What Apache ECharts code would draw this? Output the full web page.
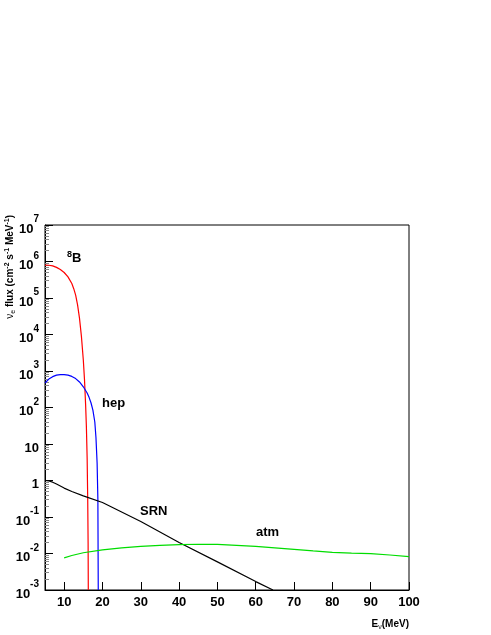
<!DOCTYPE html>
<html><head><meta charset="utf-8">
<script src="https://cdn.jsdelivr.net/npm/echarts@6/dist/echarts.min.js"></script>
<style>html,body{margin:0;padding:0;background:#fff}#c{width:491px;height:635px}</style>
</head><body><div id="c"></div>
<script>
const b8 = [[5,8e5],[6,7.9e5],[7,7.6e5],[8,6.9e5],[9,6e5],[10,5e5],[11,3.8e5],[12,2.5e5],[12.5,1.8e5],[13,1.2e5],[13.5,6.5e4],[14,2.8e4],[14.5,9e3],[15,2e3],[15.3,6e2],[15.6,1.2e2],[15.8,30],[16,4],[16.15,0.3],[16.25,0.02],[16.3,0.001]];
const hep = [[5,470],[6,600],[7,700],[8,770],[9,800],[10,800],[11,770],[12,710],[13,620],[14,500],[15,370],[16,250],[16.5,190],[17,135],[17.5,85],[18,40],[18.3,15],[18.6,3],[18.8,0.3],[18.9,0.001]];
const srn = [[5,1],[6,0.97],[7,0.9],[8,0.8],[10,0.62],[12,0.5],[15,0.38],[20,0.25],[30,0.075],[40,0.02],[50,0.0059],[60,0.0017],[64.5,0.001]];
const atm = [[10,0.0076],[12,0.0088],[15,0.0105],[20,0.0125],[25,0.0142],[30,0.0156],[35,0.0168],[40,0.0176],[45,0.0179],[50,0.0177],[55,0.0168],[60,0.0156],[65,0.0143],[70,0.013],[75,0.0118],[80,0.0108],[85,0.0103],[90,0.0099],[95,0.0091],[100,0.0082]];
const xTicks = [10,20,30,40,50,60,70,80,90,100];
const F = 'Liberation Sans, Arial, sans-serif';
function yLab(v){
  const e = Math.round(Math.log10(v));
  if (e===0) return '{b|1}';
  if (e===1) return '{b|10}';
  return '{b|10}{s|' + e + '}';
}
const chart = echarts.init(document.getElementById('c'));
chart.setOption({
  animation:false,
  grid:{left:45,right:82,top:225,bottom:45,show:true,borderColor:'#000',borderWidth:1},
  xAxis:{type:'value',min:5,max:100,
    axisLine:{onZero:false,lineStyle:{color:'#000'}},
    axisTick:{inside:true,length:8,customValues:xTicks,lineStyle:{color:'#000'}},
    axisLabel:{customValues:xTicks,color:'#000',fontFamily:F,fontWeight:'bold',fontSize:13,margin:6},
    splitLine:{show:false},
    name:'{b|E}{s|ν}{b|(MeV)}',nameLocation:'end',nameGap:0,
    nameTextStyle:{align:'right',verticalAlign:'top',padding:[28,0,0,0],rich:{b:{fontFamily:F,fontWeight:'bold',fontSize:10,color:'#000'},s:{fontFamily:F,fontSize:7,color:'#000',verticalAlign:'bottom',padding:[6,0,0,0]}}}
  },
  yAxis:{type:'log',min:0.001,max:1e7,logBase:10,interval:1,
    axisLine:{lineStyle:{color:'#000'}},
    axisTick:{inside:true,length:8,lineStyle:{color:'#000'}},
    minorTick:{show:true,splitNumber:9,length:4,lineStyle:{color:'#888'}},
    axisLabel:{formatter:yLab,color:'#000',margin:6,showMinLabel:true,showMaxLabel:true,
      rich:{b:{fontFamily:F,fontWeight:'bold',fontSize:13,color:'#000',padding:[8,0,0,0]},s:{fontFamily:F,fontWeight:'bold',fontSize:10,color:'#000',verticalAlign:'top',padding:[0,0,10,0]}}},
    splitLine:{show:false}
  },
  series:[
    {type:'line',data:b8,showSymbol:false,lineStyle:{color:'#ff0000',width:1.2}},
    {type:'line',data:hep,showSymbol:false,lineStyle:{color:'#0000ff',width:1.2}},
    {type:'line',data:srn,showSymbol:false,lineStyle:{color:'#000',width:1.2}},
    {type:'line',data:atm,showSymbol:false,lineStyle:{color:'#00dd00',width:1.2}}
  ],
  graphic:[
    {type:'text',left:67,top:250,style:{text:'{s|8}{b|B}',rich:{s:{fontFamily:F,fontSize:9,fontWeight:'bold',verticalAlign:'top',padding:[0,0,8,0]},b:{fontFamily:F,fontSize:13,fontWeight:'bold'}}}},
    {type:'text',left:102,top:397,style:{text:'hep',font:'bold 13px '+F}},
    {type:'text',left:140,top:505,style:{text:'SRN',font:'bold 13px '+F}},
    {type:'text',left:256,top:526,style:{text:'atm',font:'bold 13px '+F}},
    {type:'text',left:4,top:215,rotation:Math.PI/2,style:{text:'{s|ν}{t|e}{b| flux (cm}{u|-2}{b| s}{u|-1}{b| MeV}{u|-1}{b|)}',
      rich:{b:{fontFamily:F,fontSize:10,fontWeight:'bold'},s:{fontFamily:F,fontSize:10},t:{fontFamily:F,fontSize:7,padding:[5,0,0,0]},u:{fontFamily:F,fontSize:7,fontWeight:'bold',padding:[0,0,6,0]}}}},
  ]
});
</script></body></html>
